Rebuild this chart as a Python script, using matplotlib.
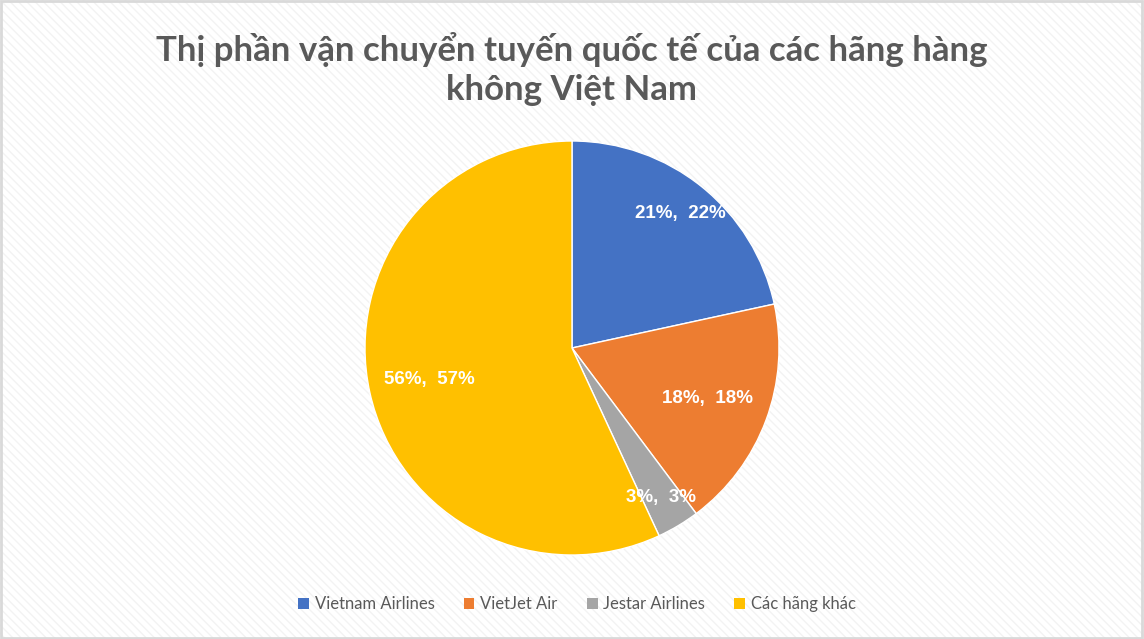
import matplotlib
matplotlib.use("Agg")
import matplotlib.pyplot as plt
from matplotlib.patches import Rectangle, Patch
import numpy as np

title = "Thị phần vận chuyển tuyến quốc tế của các hãng hàng\nkhông Việt Nam"
categories = ["Vietnam Airlines", "VietJet Air", "Jestar Airlines", "Các hãng khác"]
values = [21.4, 18.0, 3.3, 56.4]
colors = ["#4472C4", "#ED7D31", "#A5A5A5", "#FFC000"]
label_dist = [0.835, 0.70, 0.84, 0.705]

plt.rcParams['hatch.linewidth'] = 1.0

fig = plt.figure(figsize=(11.44, 6.39), dpi=100)
fig.patch.set_facecolor("white")
bg = Rectangle((0, 0), 1, 1, transform=fig.transFigure, facecolor="white",
               edgecolor="#f3f3f3", hatch="\\\\\\\\", linewidth=0, zorder=-10)
fig.patches.append(bg)
border = Rectangle((0.001, 0.002), 0.997, 0.996, transform=fig.transFigure, fill=False,
                   edgecolor="#d9d9d9", linewidth=2, zorder=10)
fig.patches.append(border)

W, H = 1144, 639
cx, cy, r = 572, 348, 207
ax = fig.add_axes([(cx - r) / W, (H - cy - r) / H, 2 * r / W, 2 * r / H])
wedges, _ = ax.pie(values, colors=colors, startangle=90, counterclock=False,
                   wedgeprops=dict(edgecolor="white", linewidth=1))
ax.set_aspect("equal")
ax.set_xlim(-1, 1)
ax.set_ylim(-1, 1)
ax.axis("off")

total = sum(values)
for w, v, d in zip(wedges, values, label_dist):
    ang = np.deg2rad((w.theta1 + w.theta2) / 2)
    ax.text(d * np.cos(ang), d * np.sin(ang), f"{v:.0f}%,  {v / total * 100:.0f}%",
            ha="center", va="center", color="white", fontsize=13.5, fontweight="bold",
            family="Liberation Sans")

fig.text(0.5, 1 - 69 / H, title, ha="center", va="center", fontsize=25,
         fontweight="bold", color="#595959", family="Lato", linespacing=1.25)

handles = [Patch(facecolor=c, edgecolor="none") for c in colors]
leg = fig.legend(handles, categories, loc="center", bbox_to_anchor=(577 / W, 1 - 604 / H),
                 ncol=4, frameon=False, handlelength=0.65, handleheight=0.65,
                 handletextpad=0.35, columnspacing=1.75,
                 prop=dict(family="Lato", size=12.0))
for t in leg.get_texts():
    t.set_color("#595959")

fig.savefig("out.png", dpi=100)
